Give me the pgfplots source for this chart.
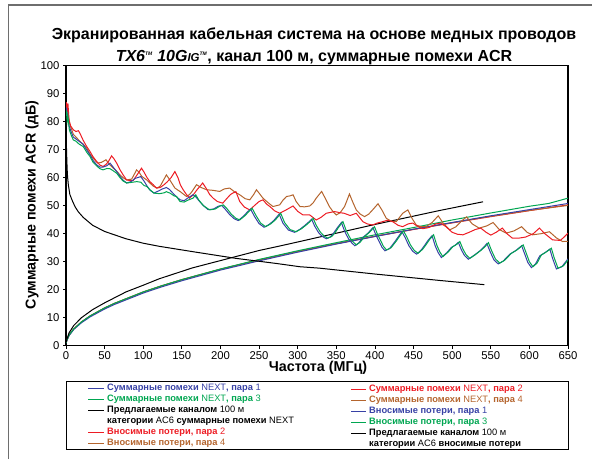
\documentclass[border=0pt]{standalone}
\usepackage{pgfplots}
\pgfplotsset{compat=1.18}
\usepackage{fontspec}
\setmainfont{Liberation Sans}
\definecolor{cblue}{RGB}{55,65,165}
\definecolor{cred}{RGB}{237,28,36}
\definecolor{cgreen}{RGB}{0,166,81}
\definecolor{cbrown}{RGB}{180,100,45}
\definecolor{cframe}{RGB}{110,110,110}
\newcommand{\B}[1]{\textbf{#1}}
\begin{document}
\begin{tikzpicture}[x=1pt,y=1pt]
\useasboundingbox (0,0) rectangle (592,459);
\draw[cframe,line width=1.3pt] (8.3,0) -- (8.3,454) -- (592,454);
\node[anchor=base,font=\bfseries\fontsize{16}{18}\selectfont] at (314,419) {Экранированная кабельная система на основе медных проводов};
\node[anchor=base,font=\bfseries\fontsize{16}{18}\selectfont] at (314,397.5) {\textit{TX6\textsuperscript{\tiny TM} 10G{\fontsize{11.5}{13}\selectfont IG}\textsuperscript{\tiny TM}}, канал 100 м, суммарные помехи ACR};
\node[font=\bfseries\fontsize{14.3}{16}\selectfont] at (318,91) {Частота (МГц)};
\node[rotate=90,font=\bfseries\fontsize{14.3}{16}\selectfont] at (32,254) {Суммарные помехи ACR (дБ)};
\begin{axis}[
  scale only axis, width=502pt, height=280pt,
  at={(66pt,113.3pt)}, anchor=south west,
  xmin=0, xmax=650, ymin=0, ymax=100,
  xtick={0,50,...,650}, ytick={0,10,...,100},
  tick align=outside, xtick pos=bottom, ytick pos=left,
  major tick length=3pt,
  axis line style={line width=1.1pt},
  tick style={black, line width=0.7pt},
  ticklabel style={font=\fontsize{11.3}{13}\selectfont},
  xticklabel style={yshift=1pt},
  /pgf/number format/assume math mode=true,
  every axis plot/.append style={line width=1pt, mark=none},
  clip=true,
]
% insertion loss measured
\addplot[cred] coordinates {(0.3,1.0)(1,1.9)(4,3.77)(10,5.97)(20,8.47)(31.25,10.6)(50,13.45)(62.5,15.07)(100,19.14)(125,21.45)(150,23.55)(200,27.29)(250,30.61)(300,33.63)(350,36.43)(400,39.04)(450,41.51)(500,43.85)(550,46.09)(600,48.23)(650,50.3)};
\addplot[cbrown] coordinates {(0.3,1.0)(1,1.9)(4,3.8)(10,6.0)(20,8.5)(31.25,10.65)(50,13.5)(62.5,15.1)(100,19.2)(125,21.5)(150,23.6)(200,27.35)(250,30.7)(300,33.7)(350,36.5)(400,39.1)(450,41.6)(500,43.95)(550,46.2)(600,48.3)(650,50.1)};
\addplot[cblue] coordinates {(0.3,0.9)(1,1.8)(4,3.6)(10,5.8)(20,8.2)(31.25,10.3)(50,13.1)(62.5,14.7)(100,18.8)(125,21.1)(150,23.2)(200,27.0)(250,30.3)(300,33.4)(350,36.3)(400,39.0)(450,41.6)(500,44.0)(550,46.4)(600,48.6)(650,50.8)};
\addplot[cgreen] coordinates {(0.3,1.0)(1,1.9)(4,3.8)(10,6.0)(20,8.5)(31.25,10.65)(50,13.5)(62.5,15.1)(100,19.2)(125,21.5)(150,23.6)(200,27.4)(250,30.8)(300,33.9)(350,36.8)(400,39.6)(450,42.2)(500,44.9)(550,47.4)(600,49.8)(625,50.8)(650,52.7)};
% limit insertion loss
\addplot[black] coordinates {(0.3,1.2)(1,2.2)(4,4.6)(10,7.2)(20,10.0)(34.5,12.9)(50,15.3)(77.6,19.2)(100,21.6)(120.7,23.9)(163.8,27.8)(200,30.4)(250,34.0)(276.7,35.6)(302.6,37.2)(328,38.8)(400,43.3)(484,48.3)(540,51.4)};
% limit NEXT
\addplot[black] coordinates {(0.7,70.5)(1,67)(1.5,63)(2,60.5)(3,57.5)(5,54)(8.6,51.5)(12,49.5)(16,47.8)(22.4,45.8)(34.5,43.0)(50,40.8)(77.6,38.2)(100,36.6)(120.7,35.5)(163.8,33.6)(219.8,31.2)(271.6,29.4)(303,28.2)(328,27.7)(400,25.6)(484,23.3)(541.7,21.8)};
% NEXT pair 4 (brown)
\addplot[cbrown] coordinates {(0.5,86)(1.5,83)(3,82)(5,79)(9.5,75.5)(13,74.5)(18,73)(22,72)(26.8,70.6)(31,68.5)(35,67)(41,65.2)(46,65.5)(51.8,66.4)(56,64.8)(61.3,63.4)(66,62.2)(70,61)(74,60)(78.5,59.2)(85,59.5)(88,61)(91.4,62.8)(95,61.8)(98,60.5)(104.5,59.2)(109,58)(113,57)(118,56.3)(122,57)(125,58.5)(130,61)(133,59.8)(136,58.5)(141,56.3)(148,55)(156,53.3)(160,54)(163,55)(169,57.5)(175,56.5)(182,55.7)(190,55.5)(199,55.1)(205,56)(212,56.3)(218,55)(225,53.9)(232,52.5)(238,52.1)(243,54)(246.6,55.7)(250,54.5)(255,52.7)(262,51)(268,49.7)(276.7,50.3)(281,52)(285.6,53.3)(290,53.5)(294,53.9)(298,51.5)(303,49.7)(309,49.6)(315.6,49.9)(320,51)(324,52.7)(331,55.1)(336,52.5)(341,49.7)(346,47.8)(350,46.7)(355,47.5)(360.7,49.7)(364,52)(367,54.2)(371,51.5)(375.8,48.5)(381,47)(386.6,46.1)(392,47)(397,48.5)(404,50.7)(409,48.5)(414.7,45.5)(421,44.5)(427.6,44.3)(436,47.3)(442.6,48.5)(448,45.5)(453.5,43.1)(460,42.5)(466,42.5)(474,44)(482,46.4)(489,43.5)(497,41.4)(505,42.5)(512,44.5)(518.6,46)(526,43.5)(535,42)(545,42.8)(553,44)(561,41.5)(570,40.2)(580,41)(590,42.5)(597,40.5)(604,39.6)(615,40)(626,40.7)(635,38.5)(643,37.2)(650,37.3)};
% NEXT pair 2 (red)
\addplot[cred] coordinates {(0.5,87)(1.5,83.5)(2.5,86.5)(4,80.5)(6,78.5)(9.5,77.1)(13,76.5)(16,76.8)(18,75.9)(22,73.5)(26,71.5)(31,69.4)(35,67.5)(39.7,65.8)(44,64.5)(48,64)(52,64.8)(55,65.8)(59,67.8)(62,66.8)(65.6,65.2)(70,62.8)(74,61)(78.5,59.2)(83,59)(87,59)(92,61)(97.8,63.4)(101,62)(105,60)(108.6,58.6)(113,57.5)(117,56.3)(122,56.5)(127,57.5)(131,58.5)(136,60)(141,62.2)(145,60)(148,57.5)(151.7,55.7)(156,54)(160,52.7)(165,54)(170,55.8)(177,58.1)(182,56)(186,54)(190.5,52.7)(196,51.5)(203,50.9)(208,52.5)(213,54)(216,54.5)(220,55)(225,51.5)(231,49.5)(238,48.5)(245,50.3)(250,51.5)(255,52.1)(260,50.5)(264,49.7)(270,48.2)(276.7,47.3)(285,48.5)(294,49.9)(300,48)(306.8,46.7)(315.6,46.7)(324,44.9)(330,45.8)(337,47.3)(347.6,47.9)(355,47.5)(360,47.3)(368,46.5)(375.8,47.3)(384.4,44.3)(390,43.5)(397,43.1)(403,43.8)(410,44.3)(416,44.8)(423,44.3)(430,43)(436,42.5)(443,43.5)(449,43.8)(456,42.5)(462,41.8)(470,42.2)(479,43.5)(485,43.8)(492,42.5)(500,40.5)(507,39.8)(514,39.6)(522,40.5)(530,41.5)(537,42)(544,40.5)(550,39.5)(557,40.5)(565,42)(571,40)(578,38.4)(586,38.4)(595,38.8)(605,40)(613,42)(620,40)(630,37.8)(640,37.6)(645,38.8)(650,40.2)};
% NEXT pair 1 (blue)
\addplot[cblue] coordinates {(0.5,85)(2,82)(4,78.5)(6.5,76.5)(9.5,74.5)(13,73.8)(17,73)(22,72)(27,69.8)(31,68.2)(35.4,66)(40,64.5)(44,63.8)(48,63.8)(53,64.3)(57,65.2)(61,63.8)(65.6,62.2)(70,60.5)(74,59.1)(78.6,58.1)(84,58.6)(90,59.8)(96.8,60.4)(101,58.8)(105,57)(109,55.5)(114,54.5)(120,55.3)(125,56)(130,56.5)(134,55.8)(140,54)(147.6,52.1)(153,51.8)(158,52.8)(164.5,53.9)(168,53.2)(173,51.5)(178,50)(184,48.6)(191,48.8)(197,49.8)(201.6,50.1)(206,48.8)(212,46.8)(218,45.3)(223,44.7)(230,46.3)(235,47.8)(239,48.8)(244,46.2)(250,43.6)(256.5,42.3)(263,43.3)(269,44.7)(273,46)(276,47)(281,43.7)(288,41.3)(296,40.5)(303,41.6)(309,42.9)(314,44.1)(318,45.2)(322,42.7)(327,40.4)(332,39)(337,38.2)(342,38.8)(346,40)(351,42)(356.6,44)(361,40.7)(366,38.1)(370,36.7)(374,35.7)(379,36.7)(384.6,38.7)(391,40.2)(397.5,42.2)(401,39.7)(405,37.5)(409,35.2)(413,33.9)(419,34.7)(426,37.2)(431,39.2)(435,40.7)(439,38.7)(444,35.7)(449,33.7)(454,32.7)(460,34.2)(464,35.7)(469,37.7)(474,39.3)(478,35.7)(482,33.2)(486,31.5)(493,33.2)(499,35.1)(504,35.9)(508,36.9)(512,34.2)(516,32.2)(521,30.9)(528,32.2)(536,33.9)(541,35.2)(545,36.5)(549,33.7)(554,30.7)(559.6,29.2)(566,30.2)(574.7,32.7)(582,33.9)(590,35.7)(594,32.7)(598,29.7)(602.6,27.9)(608,29.2)(613.5,32.1)(620,33.2)(626.5,34.5)(630,31.2)(635,27.4)(642,28.2)(650,31)};
% NEXT pair 3 (green)
\addplot[cgreen] coordinates {(0.5,84)(1.5,80)(2.5,82)(4.3,77.1)(7,75)(9.5,73.5)(13,73)(17,72)(22.4,71.1)(27,69)(31,67.6)(35,65.5)(39.7,64.2)(44,63.2)(48,62.8)(53,63.3)(57,63.2)(61,62.5)(65.6,61.6)(70,60)(74,58.8)(78.6,58.1)(84,58.3)(91.5,58.6)(96.8,58.4)(101,57.2)(104.5,56.9)(108.6,55.7)(114,54.5)(121,54.3)(127,54.6)(130,55)(134.6,54.5)(140,53.5)(143,53.3)(147.6,51.5)(153,51.3)(158,52)(164.5,52.7)(168,53.9)(172,52)(178,50)(186,48.5)(193,48.8)(199,49.8)(203.6,50.3)(208,49.1)(214,47)(220,45.5)(225,44.9)(232,46.5)(237,48)(241,49.1)(246,46.5)(252,43.8)(258.5,42.5)(265,43.5)(271,44.9)(275,46.2)(278,47.3)(283,44)(290,41.5)(298,40.7)(305,41.8)(311,43.1)(316,44.3)(320,45.5)(324,43)(329,40.7)(334,39.2)(339,38.4)(344,39)(348,40.2)(353,42.3)(358.6,44.3)(363,41)(368,38.4)(372,37)(376,36)(381,37)(386.6,39)(393,40.5)(399.5,42.5)(403,40)(407,37.8)(411,35.5)(415,34.2)(421,35)(428,37.5)(433,39.5)(437,41)(441,39)(446,36)(451,34)(456,33)(462,34.5)(466,36)(471,38)(476,39.6)(480,36)(484,33.5)(488,31.8)(495,33.5)(501,35.4)(506,36.2)(510,37.2)(514,34.5)(518,32.5)(523,31.2)(530,32.5)(538,34.2)(543,35.5)(547,36.8)(551,34)(556,31)(561.6,29.5)(568,30.5)(576.7,33)(584,34.2)(592,36)(596,33)(600,30)(604.6,28.2)(610,29.5)(615.5,32.4)(622,33.5)(628.5,34.8)(632,31.5)(637,27.7)(644,28.5)(650,30.6)};
\end{axis}
% legend (manual key)
\draw[black,line width=0.9pt] (66,10) rectangle (568,78);
\begin{scope}[every node/.style={anchor=west,inner sep=0pt,font=\fontsize{9.3}{10}\selectfont}]
\draw[cblue,line width=1pt] (88,71) -- (104,71); \node[text=cblue] at (107,71) {\B{Суммарные помехи} NEXT\B{, пара} 1};
\draw[cgreen,line width=1pt] (88,60) -- (104,60); \node[text=cgreen] at (107,60) {\B{Суммарные помехи} NEXT\B{, пара} 3};
\draw[black,line width=1pt] (88,49) -- (104,49); \node at (107,49) {\B{Предлагаемые каналом} 100 м};
\node at (107,38) {\B{категории} AC6 \B{суммарные помехи} NEXT};
\draw[cred,line width=1pt] (88,27) -- (104,27); \node[text=cred] at (107,27) {\B{Вносимые потери, пара} 2};
\draw[cbrown,line width=1pt] (88,16) -- (104,16); \node[text=cbrown] at (107,16) {\B{Вносимые потери, пара} 4};
\draw[cred,line width=1pt] (351,69.5) -- (366,69.5); \node[text=cred] at (369,69.5) {\B{Суммарные помехи} NEXT\B{, пара} 2};
\draw[cbrown,line width=1pt] (351,58.5) -- (366,58.5); \node[text=cbrown] at (369,58.5) {\B{Суммарные помехи} NEXT\B{, пара} 4};
\draw[cblue,line width=1pt] (351,47.5) -- (366,47.5); \node[text=cblue] at (369,47.5) {\B{Вносимые потери, пара} 1};
\draw[cgreen,line width=1pt] (351,36.5) -- (366,36.5); \node[text=cgreen] at (369,36.5) {\B{Вносимые потери, пара} 3};
\draw[black,line width=1pt] (351,25.5) -- (366,25.5); \node at (369,25.5) {\B{Предлагаемые каналом} 100 м};
\node at (369,14.5) {\B{категории} AC6 \B{вносимые потери}};
\end{scope}
\end{tikzpicture}
\end{document}
